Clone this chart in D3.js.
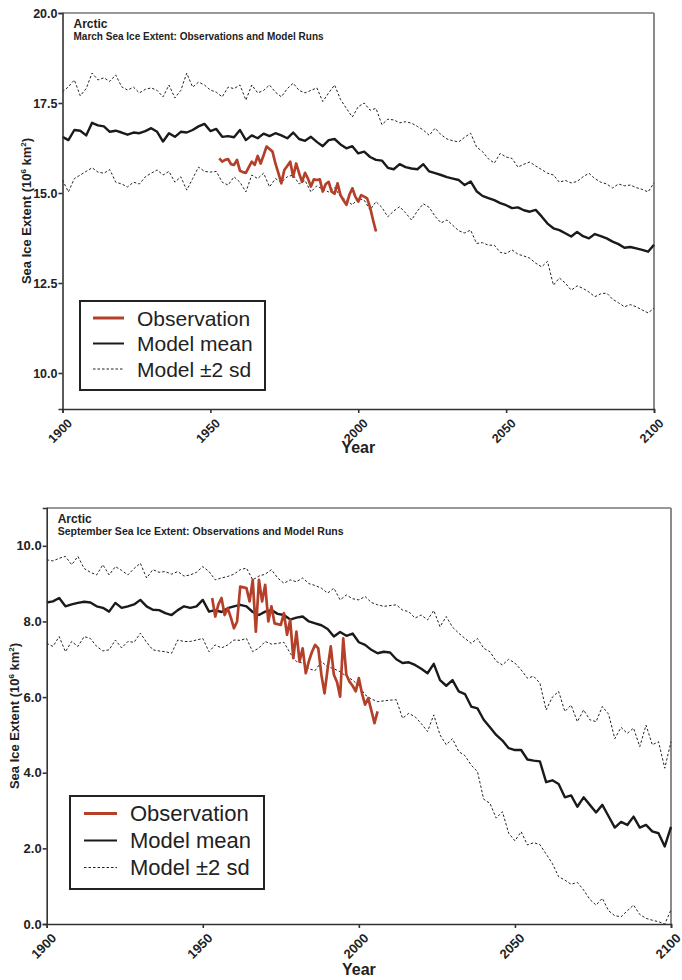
<!DOCTYPE html>
<html>
<head>
<meta charset="utf-8">
<style>
body{margin:0;background:#fff;}
svg{font-family:"Liberation Sans",Arial,Helvetica,sans-serif;}
.tick text{font-weight:bold;fill:#222;}
.axis path,.axis line{stroke:#333;stroke-width:1.6px;}
.mean{fill:none;stroke:#1a1a1a;stroke-width:2.4px;stroke-linejoin:round;}
.band{fill:none;stroke:#222;stroke-width:1px;stroke-dasharray:2.5,2;}
.obs{fill:none;stroke:#b5402a;stroke-width:2.7px;stroke-linejoin:round;}
.legtext{font-size:21px;fill:#222;}
</style>
</head>
<body>
<script src="https://cdn.jsdelivr.net/npm/d3@7/dist/d3.min.js"></script>
<script>

// years of model runs (every 2nd year) and observations
var modelYears = d3.range(1900, 2101, 2);
var obsYears = d3.range(1953, 2007);
var xTicks = [1900, 1950, 2000, 2050, 2100];

// March (10^6 km2)
var marchMean = [16.56,16.47,16.75,16.73,16.6,16.95,16.88,16.85,16.7,16.73,16.68,16.62,16.68,16.66,16.72,16.8,16.7,16.43,16.66,16.56,
16.7,16.68,16.75,16.85,16.92,16.72,16.78,16.56,16.58,16.55,16.75,16.47,16.6,16.52,16.65,16.58,16.66,16.6,16.52,16.68,
16.5,16.45,16.56,16.42,16.3,16.47,16.5,16.35,16.24,16.3,16.1,16.15,16.0,15.92,15.9,15.7,15.66,15.8,15.72,15.68,
15.66,15.8,15.6,15.55,15.5,15.44,15.4,15.36,15.22,15.32,15.05,14.92,14.86,14.8,14.72,14.66,14.58,14.6,14.52,14.48,
14.53,14.35,14.15,14.02,13.97,13.88,13.79,13.92,13.8,13.74,13.86,13.8,13.74,13.65,13.58,13.48,13.5,13.46,13.42,13.37,13.56];
var marchUpper = [17.81,17.95,18.14,17.7,17.9,18.33,18.14,18.2,18.1,18.28,17.95,17.86,17.94,17.78,17.88,17.92,17.85,17.67,18.0,17.64,
17.85,18.33,17.94,18.08,18.0,17.86,17.8,17.67,17.94,17.9,18.0,17.58,18.0,17.78,17.85,18.0,17.8,17.67,17.9,18.05,
17.85,17.78,17.85,17.92,17.54,17.78,18.0,17.6,17.35,17.11,17.4,17.5,17.3,17.35,16.9,17.05,17.03,16.95,16.98,16.94,
16.85,16.75,16.6,16.8,16.62,16.5,16.45,16.42,16.55,16.66,16.28,16.15,15.95,15.83,16.1,16.0,15.96,15.72,15.8,15.86,
15.75,15.65,15.55,15.5,15.3,15.35,15.28,15.32,15.45,15.55,15.4,15.3,15.25,15.14,15.25,15.2,15.22,15.15,15.1,15.03,15.28];
var marchLower = [15.36,15.03,15.4,15.5,15.6,15.7,15.58,15.55,15.65,15.3,15.25,15.17,15.3,15.25,15.45,15.55,15.64,15.5,15.6,15.3,
15.45,15.08,15.4,15.72,15.6,15.58,15.6,15.3,15.22,15.45,15.3,15.03,15.5,15.4,15.55,15.17,15.4,15.3,15.45,15.5,
15.25,15.35,15.03,15.2,15.1,15.03,15.15,14.9,14.8,14.67,14.85,14.8,14.53,14.76,14.6,14.34,14.5,14.62,14.45,14.25,
14.5,14.7,14.6,14.35,14.17,14.25,14.1,13.95,13.89,13.97,13.6,13.62,13.55,13.55,13.35,13.32,13.42,13.3,13.25,13.19,
13.05,12.95,13.1,12.44,12.64,12.5,12.3,12.42,12.35,12.25,12.12,12.2,12.22,12.05,11.95,11.84,11.9,11.84,11.75,11.67,11.8];
var marchObs = [15.96,15.87,15.92,15.94,15.8,15.78,15.92,15.62,15.58,15.56,15.72,15.87,15.78,16.03,15.82,16.05,16.29,16.22,16.15,15.82,
15.55,15.27,15.64,15.75,15.87,15.45,15.82,15.55,15.31,15.56,15.4,15.18,15.38,15.36,15.38,15.04,15.25,15.31,15.04,14.98,
15.27,14.94,14.8,14.67,14.95,15.13,14.9,14.76,14.94,14.9,14.85,14.6,14.25,13.93];

// September (10^6 km2)
var septMean = [8.5,8.53,8.62,8.4,8.45,8.49,8.52,8.5,8.4,8.36,8.26,8.49,8.36,8.4,8.45,8.57,8.4,8.31,8.3,8.22,
8.17,8.3,8.4,8.36,8.4,8.57,8.26,8.3,8.25,8.35,8.4,8.44,8.4,8.25,8.17,8.26,8.3,8.2,8.17,8.05,
8.1,8.13,8.0,7.95,7.9,7.8,7.6,7.72,7.62,7.68,7.45,7.38,7.25,7.16,7.2,7.18,7.0,6.9,6.92,6.85,
6.75,6.63,6.88,6.45,6.3,6.45,6.15,6.08,5.75,5.7,5.4,5.2,5.0,4.85,4.65,4.6,4.6,4.35,4.32,4.3,
3.75,3.8,3.7,3.35,3.4,3.1,3.35,3.15,2.95,3.15,2.85,2.55,2.7,2.62,2.84,2.55,2.62,2.45,2.4,2.05,2.57];
var septUpper = [9.63,9.6,9.67,9.72,9.5,9.72,9.4,9.3,9.23,9.5,9.23,9.45,9.35,9.23,9.4,9.54,9.15,9.37,9.3,9.32,
9.25,9.32,9.2,9.23,9.3,9.45,9.32,9.1,9.15,9.19,9.25,9.37,9.41,9.1,9.2,9.25,9.37,9.15,9.01,9.1,
9.05,9.15,9.0,8.95,8.88,8.75,8.88,8.57,8.7,8.6,8.57,8.66,8.5,8.44,8.4,8.42,8.44,8.3,8.26,8.09,
8.17,8.04,8.29,7.86,8.13,7.85,7.69,7.55,7.42,7.55,7.29,7.2,6.95,6.85,7.0,6.9,6.72,6.5,6.55,6.37,
5.66,6.0,6.15,5.62,5.79,5.35,5.66,5.4,5.35,5.75,5.55,4.9,5.2,5.04,5.18,4.69,5.26,4.74,4.82,4.12,4.82];
var septLower = [7.42,7.34,7.6,7.2,7.47,7.34,7.6,7.55,7.34,7.22,7.25,7.51,7.3,7.47,7.45,7.69,7.45,7.25,7.22,7.2,
7.16,7.51,7.47,7.47,7.51,7.55,7.2,7.38,7.3,7.38,7.51,7.5,7.55,7.2,7.3,7.47,7.4,7.42,7.45,7.16,
6.94,6.9,6.75,6.7,6.94,6.8,6.75,6.67,6.55,6.45,6.3,6.06,5.95,5.88,5.9,5.92,5.93,5.44,5.57,5.48,
5.3,5.09,5.53,5.0,4.74,4.9,4.56,4.45,4.2,4.03,3.3,3.19,2.8,2.97,2.4,2.2,2.44,2.09,2.15,2.1,
1.85,1.6,1.25,1.16,1.05,1.1,0.9,0.65,0.5,0.68,0.35,0.22,0.19,0.35,0.5,0.25,0.15,0.1,0.06,0.0,0.37];
var septObs = [8.62,8.13,8.45,8.62,8.17,8.35,8.1,7.82,8.0,8.92,8.9,8.88,8.53,9.1,7.73,9.1,8.53,8.97,8.0,8.4,
7.95,7.93,7.91,8.22,7.65,8.04,7.03,7.73,6.94,7.29,6.63,6.95,7.2,7.38,7.29,6.59,6.1,6.75,7.34,6.59,
6.4,6.01,7.55,6.59,6.41,6.3,6.15,6.5,6.1,5.8,5.97,5.65,5.31,5.62];

var legendLabels = ["Observation", "Model mean", "Model \u00b12 sd"];

var svg = d3.select("body").append("svg").attr("width", 682).attr("height", 980);

function panel(p) {
  var g = svg.append("g");
  var x = d3.scaleLinear().domain([1900, 2100]).range([p.left, p.right]);
  var y = d3.scaleLinear().domain(p.yDomain).range([p.bottom, p.top]);

  // frame: top thin dark, right grey
  g.append("line").attr("x1", p.left).attr("x2", p.right).attr("y1", p.top).attr("y2", p.top)
    .attr("stroke", "#333").attr("stroke-width", 1.2);
  g.append("line").attr("x1", p.right).attr("x2", p.right).attr("y1", p.top).attr("y2", p.bottom)
    .attr("stroke", "#8a8a8a").attr("stroke-width", 2);

  var line = d3.line().x(function(d){ return x(d[0]); }).y(function(d){ return y(d[1]); });
  var pair = function(yrs, vals){ return yrs.map(function(t, i){ return [t, vals[i]]; }); };

  g.append("path").attr("class", "band").attr("d", line(pair(modelYears, p.upper)));
  g.append("path").attr("class", "band").attr("d", line(pair(modelYears, p.lower)));
  g.append("path").attr("class", "mean").attr("d", line(pair(modelYears, p.mean)));
  g.append("path").attr("class", "obs").attr("d", line(pair(obsYears, p.obs)));

  var ya = g.append("g").attr("class", "axis").attr("transform", "translate(" + p.left + ",0)")
    .call(d3.axisLeft(y).tickValues(p.yTicks).tickFormat(d3.format(".1f")).tickSize(4).tickPadding(1));
  ya.selectAll(".tick text").style("font-size", p.tickFont + "px");

  var xa = g.append("g").attr("class", "axis").attr("transform", "translate(0," + p.bottom + ")")
    .call(d3.axisBottom(x).tickValues(xTicks).tickFormat(d3.format("d")).tickSize(4));
  xa.selectAll(".tick text").style("font-size", p.tickFont + "px")
    .attr("text-anchor", "end").attr("dy", null).attr("y", null)
    .attr("transform", "translate(10,15) rotate(-45)");

  g.append("text").attr("x", (p.left + p.right) / 2).attr("y", p.bottom + p.yearDy)
    .attr("text-anchor", "middle").style("font-size", "16px").style("font-weight", "bold")
    .attr("fill", "#222").text("Year");

  var yl = g.append("text").attr("transform", "translate(" + p.ylabX + "," + ((p.top + p.bottom) / 2) + ") rotate(-90)")
    .attr("text-anchor", "middle").style("font-size", "13px").style("font-weight", "bold").attr("fill", "#222");
  yl.append("tspan").text("Sea Ice Extent (10");
  yl.append("tspan").attr("dy", -5).style("font-size", "8px").text("6");
  yl.append("tspan").attr("dy", 5).text(" km");
  yl.append("tspan").attr("dy", -5).style("font-size", "8px").text("2");
  yl.append("tspan").attr("dy", 5).text(")");

  g.append("text").attr("x", p.left + 11).attr("y", p.top + 15).style("font-size", "12px")
    .style("font-weight", "bold").attr("fill", "#222").text("Arctic");
  g.append("text").attr("x", p.left + 11).attr("y", p.top + 27).style("font-size", p.subFont + "px")
    .style("font-weight", "bold").attr("fill", "#222").text(p.subtitle);

  // legend
  var L = p.legend;
  var lg = g.append("g").attr("transform", "translate(" + L.x + "," + L.y + ")");
  lg.append("rect").attr("width", L.w).attr("height", L.h).attr("fill", "#fff")
    .attr("stroke", "#222").attr("stroke-width", 2);
  var cls = ["obs", "mean", "band"];
  legendLabels.forEach(function(t, i){
    var cy = L.row0 + i * L.step;
    lg.append("line").attr("class", cls[i]).attr("x1", L.lx1).attr("x2", L.lx2)
      .attr("y1", cy).attr("y2", cy).style("stroke-width", i == 2 ? 1 : (i == 0 ? 3 : 2));
    lg.append("text").attr("class", "legtext").attr("x", L.tx).attr("y", cy + 7.5)
      .style("font-size", L.font + "px").text(t);
  });
}

panel({
  left: 62.5, right: 654, top: 13, bottom: 409, yDomain: [9, 20],
  yTicks: [10, 12.5, 15, 17.5, 20], tickFont: 12.5, subFont: 10,
  mean: marchMean, upper: marchUpper, lower: marchLower, obs: marchObs,
  subtitle: "March Sea Ice Extent: Observations and Model Runs",
  yearDy: 44, ylabX: 31,
  legend: {x: 80, y: 301, w: 185, h: 89, row0: 17, step: 25.5, lx1: 13, lx2: 44, tx: 57, font: 21}
});

panel({
  left: 46.7, right: 671, top: 508, bottom: 924, yDomain: [0, 11],
  yTicks: [0, 2, 4, 6, 8, 10], tickFont: 13, subFont: 10.5,
  mean: septMean, upper: septUpper, lower: septLower, obs: septObs,
  subtitle: "September Sea Ice Extent: Observations and Model Runs",
  yearDy: 51, ylabX: 19,
  legend: {x: 70, y: 796, w: 194, h: 93, row0: 17.5, step: 27, lx1: 14, lx2: 47, tx: 60, font: 22}
});
</script>
</body>
</html>
